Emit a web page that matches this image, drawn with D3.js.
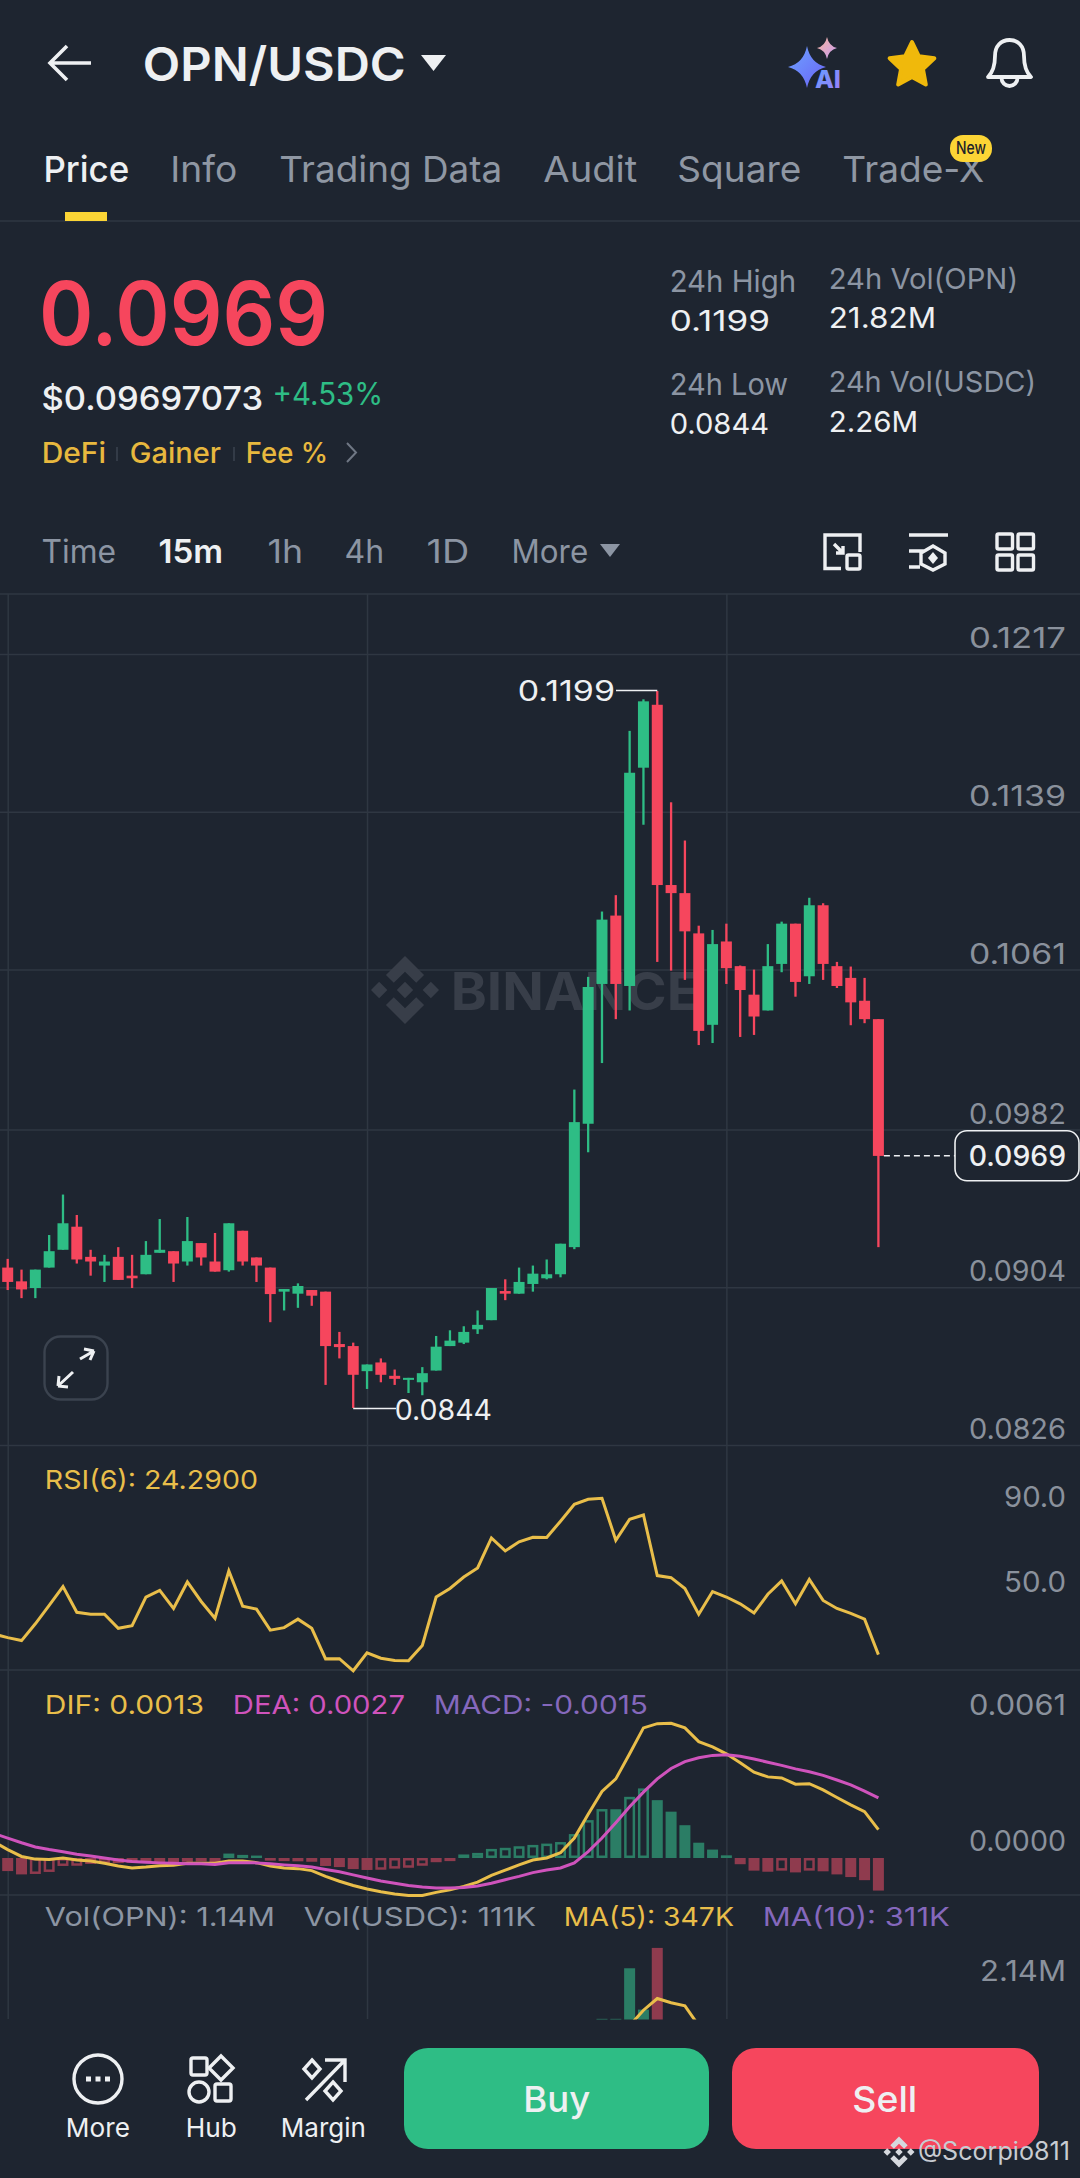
<!DOCTYPE html>
<html><head><meta charset="utf-8">
<script src="https://cdn.jsdelivr.net/npm/d3@7"></script>
<style>html,body{margin:0;padding:0;background:#1e2530;overflow:hidden}svg{display:block}text{font-family:Inter,"Noto Sans",sans-serif}</style>
</head><body><svg id="c" width="1080" height="2178"></svg>
<script>
// ---------- DATA (prices in 1e-5 USDC) ----------
const OPEN=[9137,9069,9036,9137,9225,9339,9190,9147,9190,9097,9104,9210,9218,9167,9258,9167,9124,9319,9187,9137,9018,9008,9026,9018,8759,8749,8625,8668,8602,8582,8570,8628,8749,8766,8832,8877,9021,9008,9056,9084,9104,9238,9848,10539,10877,10529,11608,11919,11028,10988,10789,10337,10749,10627,10486,10408,10638,10837,10577,10928,10627,10569,10456,10365];
const HIGH=[9180,9127,9127,9298,9498,9397,9225,9200,9238,9200,9268,9377,9218,9387,9258,9308,9356,9319,9187,9137,9031,9059,9026,9018,8819,8766,8658,8688,8633,8592,8645,8799,8827,8847,8925,9036,9079,9137,9147,9177,9255,10017,10574,10897,10978,11790,11946,11987,11437,11248,10827,10806,10837,10630,10610,10736,10847,10837,10965,10938,10648,10625,10569,10365];
const LOW=[9026,8986,8986,9137,9225,9157,9097,9066,9076,9036,9104,9210,9066,9147,9147,9117,9117,9147,9066,8867,8925,8938,8948,8557,8688,8443,8537,8570,8557,8517,8506,8628,8749,8759,8809,8877,8976,9008,9018,9079,9089,9228,9707,10148,10365,10408,11326,10648,10605,10559,10237,10247,10539,10277,10287,10408,10597,10476,10539,10559,10519,10335,10345,9238];
const CLOSE=[9066,9029,9127,9218,9356,9177,9167,9167,9076,9084,9200,9225,9157,9268,9187,9117,9356,9167,9147,9006,9031,9046,8998,8749,8744,8607,8658,8607,8587,8592,8615,8746,8776,8819,8854,9036,9008,9066,9107,9104,9255,9856,10524,10857,10539,11583,11936,11028,10988,10799,10307,10736,10617,10509,10378,10627,10837,10549,10928,10638,10529,10448,10365,9689];
const PRICE_TICKS=[0.1217,0.1139,0.1061,0.0982,0.0904,0.0826];
const LAST_PRICE=0.0969, HIGH_PRICE=0.1199, LOW_PRICE=0.0844;
const RSI_PREV=34.0;
const RSI=[32.3,30.9,38.8,47.5,56.3,44.2,43.3,43.3,36.7,37.9,51.4,54.5,46.0,58.5,49.3,41.4,63.7,47.1,45.7,35.8,37.0,41.0,36.7,22.3,22.4,16.7,25.1,22.6,21.5,21.4,28.6,51.4,55.4,60.8,65.1,79.2,73.1,77.4,79.5,79.4,87.1,95.0,97.4,97.9,78.1,88.0,90.0,61.5,60.5,55.4,43.3,54.0,51.4,48.2,43.9,52.7,59.0,48.2,59.7,49.8,46.0,43.7,41.0,24.29];
const RSI_TICKS=[90,50];
// MACD family in 1e-5
const DIF_PREV=73, DEA_PREV=111;
const DIF=[38,7,-5,-7,0,-9,-14,-24,-36,-45,-41,-35,-33,-24,-24,-24,-14,-14,-21,-36,-45,-48,-57,-83,-105,-124,-140,-152,-162,-169,-169,-155,-143,-128,-109,-78,-55,-31,-9,0,24,90,197,300,357,470,587,606,608,587,525,501,470,430,387,366,361,333,335,307,273,240,209,128];
const DEA=[90,69,50,38,28,17,9,0,-9,-16,-19,-22,-24,-26,-26,-29,-21,-21,-22,-26,-31,-35,-41,-52,-62,-76,-90,-104,-114,-124,-131,-135,-135,-133,-126,-114,-98,-83,-66,-54,-45,-22,29,90,159,231,297,357,404,435,452,463,466,459,447,432,418,402,389,373,352,330,302,271];
const MACD=[-59,-74,-72,-63,-36,-35,-27,-25,-23,-22,-20,-19,-18,-17,-16,-18,20,14,11,-12,-14,-15,-17,-36,-41,-50,-54,-53,-48,-44,-35,-19,-14,16,23,41,46,53,59,65,72,108,171,221,220,276,314,261,209,148,69,38,12,-28,-57,-62,-57,-65,-57,-60,-74,-86,-100,-147];
const MACD_TICKS=[0.0061,0];
// visible part of the volume panel (millions)
const VOL_INDEX=[43,44,45,46,47];
const VOL=[1.64,1.64,2.46,1.79,2.79];
const VOL_UP=[true,true,true,true,false];
const MA5_INDEX=[45,46,47,48,49,50];
const MA5=[1.53,1.78,1.97,1.90,1.85,1.53];
const VOL_TICKS=[2.14];
const GRID_INDEX=[0,26,52];
const TABS=["Price","Info","Trading Data","Audit","Square","Trade-X"];
const RANGES=["Time","15m","1h","4h","1D","More"];

// ---------- STYLE ----------
const BG="#1e2530",UP="#2EBD85",DOWN="#F6465D",UPD="#2b7d65",DOWND="#8f3b4e",LINE="#2f3742",
 YEL="#E9BE4A",MAG="#CF53BC",PUR="#8568BC",GR="#8c95a3",AX="#8a919c",WH="#EEF0F2";
const svg=d3.select("#c");
svg.append("rect").attr("width",1080).attr("height",2178).attr("fill",BG);
function T(g,x,y,s,size,fill,weight,w,anchor){
  const adj=(w&&!anchor)?size*0.045:0;
  const e=g.append("text").attr("x",x-adj).attr("y",y).attr("font-size",size).attr("fill",fill).attr("font-weight",weight||400).text(s);
  if(anchor)e.attr("text-anchor",anchor);
  if(w)e.attr("textLength",w+adj*1.8).attr("lengthAdjust","spacingAndGlyphs");
  return e;
}

// ---------- SCALES ----------
const n=OPEN.length;
const x=d3.scaleLinear().domain([0,63]).range([7.7,878.4]);
const yP=d3.scaleLinear().domain([0.1217,0.0826]).range([654,1445]);
const yR=d3.scaleLinear().domain([90,50]).range([1515,1600]);
const yM=d3.scaleLinear().domain([0,0.0061]).range([1858,1722.8]);
const yV=d3.scaleLinear().domain([0,2.14]).range([2120,1988]);
const BW=11;

// ---------- GRID ----------
const grid=svg.append("g");
const gridStyle=s=>{s.select(".domain").remove();s.selectAll("line").attr("stroke",LINE).attr("stroke-width",1.5);s.selectAll("text").remove();};
grid.append("g").attr("transform","translate(0,2019)").call(d3.axisBottom(x).tickValues(GRID_INDEX).tickSize(-1425).tickFormat("")).call(gridStyle);
grid.append("g").call(d3.axisLeft(yP).tickValues(PRICE_TICKS).tickSize(-1080).tickFormat("")).call(gridStyle);
[221,594,1670,1895].forEach(y=>grid.append("line").attr("x1",0).attr("x2",1080).attr("y1",y).attr("y2",y).attr("stroke",LINE).attr("stroke-width",1.5));

// ---------- WATERMARK ----------
function logo(g,cx,cy,s,c){
  const dia=(ax,ay,r)=>`M${cx+ax*s},${cy+(ay-r)*s}L${cx+(ax+r)*s},${cy+ay*s}L${cx+ax*s},${cy+(ay+r)*s}L${cx+(ax-r)*s},${cy+ay*s}Z`;
  const ch=k=>[[0,-1],[.56,-.44],[.33,-.21],[0,-.54],[-.33,-.21],[-.56,-.44]].map((p,i)=>(i?"L":"M")+(cx+p[0]*s)+","+(cy+k*p[1]*s)).join("")+"Z";
  g.append("path").attr("fill",c).attr("d",dia(0,0,.24)+dia(-.76,0,.24)+dia(.76,0,.24)+ch(1)+ch(-1));
}
logo(svg,405,990,34,"#383e49");
T(svg,453,1010,"BINANCE",52,"#383e49",700,245);

// ---------- CANDLES ----------
const c=svg.append("g");
const idx=d3.range(n);
const col=i=>CLOSE[i]>=OPEN[i]?UP:DOWN;
const P=v=>yP(v/1e5);
c.selectAll(".w").data(idx).join("rect").attr("x",i=>x(i)-1.15).attr("width",2.3)
 .attr("y",i=>P(HIGH[i])).attr("height",i=>P(LOW[i])-P(HIGH[i])).attr("fill",col);
c.selectAll(".b").data(idx).join("rect").attr("x",i=>x(i)-BW/2).attr("width",BW)
 .attr("y",i=>P(Math.max(OPEN[i],CLOSE[i]))).attr("height",i=>Math.max(2,P(Math.min(OPEN[i],CLOSE[i]))-P(Math.max(OPEN[i],CLOSE[i])))).attr("fill",col);

// price axis labels
function axisLabels(scale,ticks,fmt,off,w,size){
  const g=svg.append("g").attr("transform","translate(1066,0)");
  g.call(d3.axisLeft(scale).tickValues(ticks).tickSize(0).tickPadding(0).tickFormat(fmt));
  g.select(".domain").remove();
  g.selectAll("text").attr("x",0).attr("y",-off).attr("dy","0.36em").attr("fill",AX)
   .attr("font-size",size||28).attr("font-family","Inter,sans-serif").attr("text-anchor","end")
   .attr("textLength",w).attr("lengthAdjust","spacingAndGlyphs");
}
axisLabels(yP,PRICE_TICKS,d3.format(".4f"),16.5,97);
axisLabels(yR,RSI_TICKS,d3.format(".1f"),18.5,62);
axisLabels(yM,MACD_TICKS,d3.format(".4f"),18,97);
axisLabels(yV,VOL_TICKS,v=>v.toFixed(2)+"M",18,86);

// high / low / last annotations
const i47=HIGH.indexOf(d3.max(HIGH)), i25=LOW.indexOf(d3.min(LOW));
svg.append("line").attr("x1",616).attr("x2",x(i47)).attr("y1",yP(HIGH_PRICE)).attr("y2",yP(HIGH_PRICE)).attr("stroke",WH).attr("stroke-width",1.5);
T(svg,519,yP(HIGH_PRICE)+11,d3.format(".4f")(HIGH_PRICE),28,WH,400,95);
svg.append("line").attr("x1",x(i25)).attr("x2",396).attr("y1",yP(LOW_PRICE)).attr("y2",yP(LOW_PRICE)).attr("stroke",WH).attr("stroke-width",1.5);
T(svg,396,yP(LOW_PRICE)+11.5,d3.format(".4f")(LOW_PRICE),28,WH,400,95);
svg.append("line").attr("x1",x(63)+BW/2).attr("x2",955).attr("y1",yP(LAST_PRICE)).attr("y2",yP(LAST_PRICE)).attr("stroke",WH).attr("stroke-width",1.5).attr("stroke-dasharray","6 4");
svg.append("rect").attr("x",955).attr("y",yP(LAST_PRICE)-25).attr("width",124).attr("height",50).attr("rx",12).attr("fill",BG).attr("stroke",WH).attr("stroke-width",1.6);
T(svg,970,yP(LAST_PRICE)+10,d3.format(".4f")(LAST_PRICE),28,WH,500,95);

// expand button
const ex=svg.append("g");
ex.append("rect").attr("x",44.5).attr("y",1336.5).attr("width",63).attr("height",63).attr("rx",16).attr("fill","none").attr("stroke","#3b434f").attr("stroke-width",2.4);
ex.append("path").attr("fill","none").attr("stroke","#eef0f2").attr("stroke-width",3)
 .attr("d","M80,1359L94,1351M94,1351L84,1349M94,1351L90,1360M73,1372L58,1386M58,1386L68,1387M58,1386L59,1376");

// ---------- RSI ----------
const ln=(sc,k)=>d3.line().x(d=>x(d[0])).y(d=>sc(d[1]*k));
const withPrev=(prev,a)=>[[-1,prev]].concat(a.map((v,i)=>[i,v]));
svg.append("path").attr("fill","none").attr("stroke",YEL).attr("stroke-width",3).attr("stroke-linejoin","miter")
 .attr("d",ln(yR,1)(withPrev(RSI_PREV,RSI)));
T(svg,46,1489,"RSI(6): "+RSI[63].toFixed(4),26,YEL,400,211);

// ---------- MACD ----------
const m=svg.append("g");
const mv=v=>yM(v/1e5);
idx.forEach(i=>{
  const v=MACD[i],up=v>=0,color=up?UPD:DOWND,hollow=i>0&&v>MACD[i-1];
  const top=Math.min(mv(v),mv(0)),h=Math.max(Math.abs(mv(v)-mv(0)),2);
  const r=m.append("rect");
  if(hollow&&h>5) r.attr("x",x(i)-BW/2+1.25).attr("width",BW-2.5).attr("y",top+1.25).attr("height",h-2.5).attr("fill","none").attr("stroke",color).attr("stroke-width",2.5);
  else r.attr("x",x(i)-BW/2).attr("width",BW).attr("y",top).attr("height",h).attr("fill",color);
});
svg.append("path").attr("fill","none").attr("stroke",YEL).attr("stroke-width",3).attr("d",ln(yM,1e-5)(withPrev(DIF_PREV,DIF)));
svg.append("path").attr("fill","none").attr("stroke",MAG).attr("stroke-width",3).attr("d",ln(yM,1e-5)(withPrev(DEA_PREV,DEA)));
T(svg,46,1714,"DIF: 0.0013",26,YEL,400,157);
T(svg,234,1714,"DEA: 0.0027",26,MAG,400,170);
T(svg,435,1714,"MACD: -0.0015",26,PUR,400,212);

// ---------- VOLUME (clipped by the bottom bar) ----------
svg.append("clipPath").attr("id","vc").append("rect").attr("x",0).attr("y",1895).attr("width",1080).attr("height",124.5);
const v=svg.append("g").attr("clip-path","url(#vc)");
v.selectAll("rect").data(VOL_INDEX).join("rect").attr("x",i=>x(i)-BW/2).attr("width",BW)
 .attr("y",(i,k)=>yV(VOL[k])).attr("height",(i,k)=>yV(0)-yV(VOL[k])).attr("fill",(i,k)=>VOL_UP[k]?UPD:DOWND);
v.append("path").attr("fill","none").attr("stroke",YEL).attr("stroke-width",3)
 .attr("d",d3.line().x((d,k)=>x(MA5_INDEX[k])).y(d=>yV(d))(MA5));
T(svg,46,1926,"Vol(OPN): 1.14M",26,GR,400,228);
T(svg,305,1926,"Vol(USDC): 111K",26,GR,400,230);
T(svg,565,1926,"MA(5): 347K",26,YEL,400,168);
T(svg,764,1926,"MA(10): 311K",26,PUR,400,185);

// ---------- HEADER ----------
const H=svg.append("g");
H.append("path").attr("fill","none").attr("stroke",WH).attr("stroke-width",3.6).attr("d","M91,63H50M67,46L50,63L67,80");
T(H,145,81,"OPN/USDC",47,WH,600,259);
H.append("path").attr("fill",WH).attr("d","M421,55H446L433.5,71Z");
const defs=svg.append("defs");
const gr=(id,a,b)=>{const g=defs.append("linearGradient").attr("id",id).attr("x1",0).attr("y1",0).attr("x2",1).attr("y2",1);g.append("stop").attr("offset",0).attr("stop-color",a);g.append("stop").attr("offset",1).attr("stop-color",b);};
gr("g1","#6ea4ff","#6a62f5");gr("g2","#f6b49a","#c79cf5");gr("g3","#5fa0ff","#a27cf7");
const spark=(cx,cy,rx,ry)=>`M${cx},${cy-ry}Q${cx+rx*.18},${cy-ry*.18} ${cx+rx},${cy}Q${cx+rx*.18},${cy+ry*.18} ${cx},${cy+ry}Q${cx-rx*.18},${cy+ry*.18} ${cx-rx},${cy}Q${cx-rx*.18},${cy-ry*.18} ${cx},${cy-ry}Z`;
H.append("path").attr("fill","url(#g1)").attr("d",spark(807,67,19,21));
H.append("path").attr("fill","url(#g2)").attr("d",spark(827,48,10,11));
T(H,816,88,"AI",24,"url(#g3)",800,24);
const star=d3.range(10).map(k=>{const r=k%2?11.5:23.5,a=-Math.PI/2+k*Math.PI/5;return (k?"L":"M")+(912+r*Math.cos(a))+","+(65.5+r*Math.sin(a));}).join("")+"Z";
H.append("path").attr("d",star).attr("fill","#F0B90B").attr("stroke","#F0B90B").attr("stroke-width",4).attr("stroke-linejoin","round");
H.append("path").attr("fill","none").attr("stroke",WH).attr("stroke-width",3.8).attr("stroke-linejoin","round")
 .attr("d","M988,77C994,71 995,64 995,56C995,46 1001,40 1009.5,40C1018,40 1024,46 1024,56C1024,64 1025,71 1031,77ZM1001.5,78A8 8 0 0 0 1017.5,78");

const TX=[[45,83],[172,64],[281,220],[545,91],[679,121],[844,139]];
TABS.forEach((s,i)=>T(H,TX[i][0],182,s,36,i?"#8f97a3":WH,i?400:500,TX[i][1]));
H.append("rect").attr("x",65).attr("y",212).attr("width",42).attr("height",9).attr("fill","#FCD535");
H.append("rect").attr("x",950).attr("y",135).attr("width",42).attr("height",27).attr("rx",13).attr("fill","#FCD535");
T(H,971,154,"New",17,"#1e2329",500,30,"middle");

// ---------- PRICE SUMMARY ----------
T(H,43,345,"0.0969",88,DOWN,600,282);
T(H,43,410,"$0.09697073",33,WH,500,219);
T(H,274,405,"+4.53%",31,UP,400,108);
T(H,43,463,"DeFi",28,"#E8B83E",500,62);
T(H,131,463,"Gainer",28,"#E8B83E",500,89);
T(H,247,463,"Fee %",28,"#E8B83E",500,80);
[117,234].forEach(px=>H.append("line").attr("x1",px).attr("x2",px).attr("y1",447).attr("y2",461).attr("stroke","#3b434f").attr("stroke-width",1.5));
H.append("path").attr("fill","none").attr("stroke","#6f7784").attr("stroke-width",2).attr("d","M347,443L356,452.5L347,462");
T(H,671,292,"24h High",30,GR,400,124);
T(H,671,331,"0.1199",29,WH,400,98);
T(H,830,289,"24h Vol(OPN)",29,GR,400,187);
T(H,830,328,"21.82M",29,WH,400,105);
T(H,671,395,"24h Low",30,GR,400,116);
T(H,671,434,"0.0844",29,WH,400,97);
T(H,830,392,"24h Vol(USDC)",29,GR,400,205);
T(H,830,432,"2.26M",29,WH,400,87);

// ---------- RANGE ROW ----------
const RX=[[43,72],[160,62],[269,33],[346,37],[428,40],[513,74]];
RANGES.forEach((s,i)=>T(H,RX[i][0],563,s,32,i==1?WH:GR,i==1?600:400,RX[i][1]));
H.append("path").attr("fill",GR).attr("d","M600,544H620L610,557Z");
const ic=H.append("g").attr("fill","none").attr("stroke",WH).attr("stroke-width",3.4);
ic.append("path").attr("d","M841,568.5H825V535H860V552M834,544L843,553M843,546V553H836");
ic.append("rect").attr("x",847).attr("y",555).attr("width",13).attr("height",14).attr("rx",1.5);
ic.append("path").attr("d","M909,535H948M909,551H925M909,567H920M933,546L945,553V564L933,570L921,564V553Z");
ic.append("path").attr("fill",WH).attr("stroke","none").attr("d","M933,552L938,558L933,564L928,558Z");
[[997,534],[1018,534],[997,555],[1018,555]].forEach(p=>ic.append("rect").attr("x",p[0]).attr("y",p[1]).attr("width",15.5).attr("height",15).attr("rx",1.5));

// ---------- BOTTOM BAR ----------
const B=svg.append("g");
const bi=B.append("g").attr("fill","none").attr("stroke",WH).attr("stroke-width",3.4);
bi.append("circle").attr("cx",98).attr("cy",2079).attr("r",24);
[88.5,98,107.5].forEach(px=>B.append("rect").attr("x",px-2.5).attr("y",2076.5).attr("width",5).attr("height",5).attr("fill",WH));
T(B,67,2137,"More",26,WH,400,62);
bi.append("rect").attr("x",191).attr("y",2058).attr("width",16).attr("height",17).attr("rx",2);
bi.append("path").attr("d","M221,2056L233,2068L221,2080L209,2068Z");
bi.append("circle").attr("cx",199).attr("cy",2092).attr("r",10);
bi.append("rect").attr("x",215).attr("y",2084).attr("width",16).attr("height",17).attr("rx",2);
T(B,187,2137,"Hub",26,WH,400,49);
bi.append("path").attr("d","M306,2100L344,2061M325,2060H345V2082M312,2060L320,2069L312,2078L304,2069ZM333,2082L341,2091L333,2100L325,2091Z");
T(B,282,2137,"Margin",26,WH,400,83);
B.append("rect").attr("x",404).attr("y",2048).attr("width",305).attr("height",101).attr("rx",24).attr("fill",UP);
T(B,525,2112,"Buy",36,WH,500,64);
B.append("rect").attr("x",732).attr("y",2048).attr("width",307).attr("height",101).attr("rx",24).attr("fill",DOWN);
T(B,854,2112,"Sell",36,WH,500,62);
logo(B,899,2152,15.5,"#d6d9de");
T(B,919,2160,"@Scorpio811",25,"#c8ccd2",400,150);
</script></body></html>
